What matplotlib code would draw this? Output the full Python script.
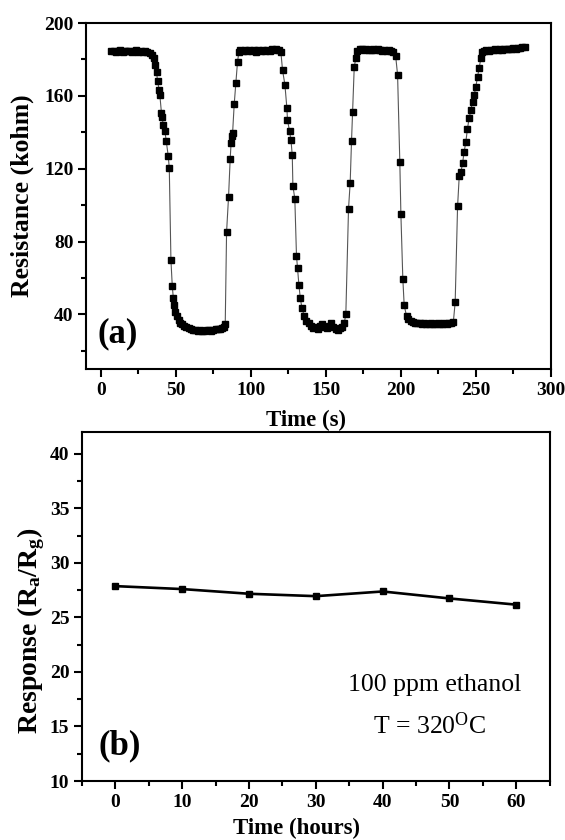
import matplotlib
matplotlib.use("Agg")
import matplotlib.pyplot as plt
from matplotlib.ticker import MultipleLocator

plt.rcParams['font.family'] = ['Liberation Serif', 'DejaVu Serif']
plt.rcParams['mathtext.default'] = 'regular'
plt.rcParams['axes.linewidth'] = 1.5

# (a) resistance transient, time in s, resistance in kohm
time_s = [7, 8.5, 10, 11.5, 13, 14.5, 16, 17.5, 19, 20.5, 22, 23.5, 25, 26.5, 28, 29.5, 31, 32.5, 34,
          35.5, 36.3, 37.1, 37.8, 38.9, 39.3, 40.4, 40.8, 41.6, 42.7, 43.6, 44.9, 45.6,
          46.7, 47.6, 48.3, 48.9, 49.7, 50.7, 51.8, 53, 54.3,
          55.5, 57, 58.5, 60, 61.5, 63, 64.5, 66, 67.5, 69, 70.5, 72, 73.5, 75, 76.5, 78, 79.5, 81, 82.2,
          82.9, 83.8, 85.1, 86.2, 86.8, 87.3, 87.8, 88.9, 90, 91.1, 92,
          93, 94.5, 96, 97.5, 99, 100.5, 102, 103.5, 105, 106.5, 108, 109.5, 111, 112.5, 114, 115.5, 117, 118.5, 120,
          121.1, 122.7, 124, 124.4, 125.8, 126.7, 127.6, 128, 129.3, 130.4, 131.1, 132, 132.9, 134, 135.6,
          137, 138.5, 140, 141.5, 143, 144.5, 146, 147.5, 149, 150.5, 152, 153.5, 155, 156.5, 158, 159.5, 161, 162.3,
          163.3, 165.1, 166.2, 167.1, 167.8, 168.9, 170,
          171, 172.5, 174, 175.5, 177, 178.5, 180, 181.5, 183, 184.5, 186, 187.5, 189, 190.5, 192, 193.5, 195, 196.5,
          197.8, 199.3, 200, 201.3, 202.2, 203.8,
          205, 206.5, 208, 209.5, 211, 212.5, 214, 215.5, 217, 218.5, 220, 221.5, 223, 224.5, 226, 227.5, 229, 230.5,
          232, 233.5, 235,
          236.2, 237.8, 238.9, 240, 241.1, 242.2, 243.3, 244.4, 245.5, 246.7, 247.8, 248.9, 250, 251.1, 252.2, 253.3, 254.4,
          255.5, 257, 258.5, 260, 261.5, 263, 264.5, 266, 267.5, 269, 270.5, 272, 273.5, 275, 276.5, 278, 279.5, 281, 282.5]
resistance = [184.7, 184.8, 184.3, 184.6, 185, 184.2, 184.5, 184.9, 184.4, 184.1, 184.6, 185, 184.3, 184.7, 184.2, 184.8, 184, 183.5, 182.5,
              180.6, 177, 173.3, 167.9, 163.3, 160.5, 150.5, 148.5, 144, 140.5, 135, 127, 120.4,
              69.8, 55.5, 49, 45, 41.5, 39, 37, 35.5, 34.5,
              33.5, 32.8, 32.5, 32, 31.5, 31.2, 31, 31.3, 30.8, 31, 31.5, 31.2, 31, 31.4, 31.8, 32.2, 32, 32.5, 33,
              34.5, 85.3, 104.3, 125.3, 134, 138, 139.5, 155.6, 167.3, 178.8, 184,
              185.2, 184.5, 185, 184.6, 185.3, 184.8, 185, 184.3, 185.1, 184.7, 185.4, 184.9, 185.2, 184.6, 185.6, 185, 186, 185.4, 184,
              174.2, 166, 153.3, 146.8, 140.5, 135.9, 127.3, 110.7, 103.4, 72.3, 65.6, 56.4, 49.2, 43.7, 39,
              36.5, 35, 33.5, 32.5, 33, 32, 33.5, 34.5, 33, 32.5, 33.8, 35, 33, 32, 31.5, 32.5, 33, 35.5,
              40, 98.1, 112.2, 135.3, 151, 175.7, 181,
              184.5, 185.5, 185.8, 185.2, 185.6, 185, 185.4, 185.8, 185.2, 185.5, 185, 184.6, 185.3, 184.8, 185.2, 184.5, 184, 182,
              171.6, 123.5, 95.2, 59.6, 45, 39,
              37.5, 36.5, 36, 35.5, 35.2, 35, 34.8, 35.2, 34.5, 34.8, 35, 34.6, 34.8, 35, 34.6, 34.9, 35.2, 34.7,
              35, 35.3, 36,
              46.7, 99.3, 115.8, 118, 122.9, 129.3, 134.7, 142, 147.8, 152.3, 156.9, 160.5, 165.1, 170.5, 175.2, 180.6, 184.3,
              184.5, 185, 184.8, 185.2, 185, 185.5, 185.2, 185.6, 185.3, 185.8, 185.5, 186, 185.7, 186.2, 186, 186.5, 186.3, 186.8, 187]

# (b) long-term stability
time_h = [0, 10, 20, 30, 40, 50, 60]
response = [27.87, 27.6, 27.17, 26.95, 27.38, 26.74, 26.17]

fig = plt.figure(figsize=(5.65, 8.4), dpi=100)
ax1 = fig.add_axes([0.152, 0.5607, 0.823, 0.4119])
ax2 = fig.add_axes([0.145, 0.0702, 0.828, 0.4155])

ax1.plot(time_s, resistance, color='#555555', lw=0.8, marker='s', ms=4.8,
         mfc='black', mec='black')
ax1.set_xlim(-10, 300)
ax1.set_ylim(10, 200)
ax1.xaxis.set_major_locator(MultipleLocator(50))
ax1.xaxis.set_minor_locator(MultipleLocator(25))
ax1.set_yticks([40, 80, 120, 160, 200])
ax1.set_yticks([20, 60, 100, 140, 180], minor=True)
ax1.set_xlabel('Time (s)', fontsize=16.5, fontweight='bold')
ax1.xaxis.set_label_coords(0.473, -0.118)
ax1.set_ylabel('Resistance (kohm)', fontsize=18.5, fontweight='bold')
ax1.yaxis.set_label_coords(-0.112, 0.5)
ax1.text(0.024, 0.055, '(a)', transform=ax1.transAxes, fontsize=25,
         fontweight='bold', ha='left', va='bottom')

ax2.plot(time_h, response, color='black', lw=1.9, marker='s', ms=4.8)
ax2.set_xlim(-5, 65)
ax2.set_ylim(10, 42)
ax2.xaxis.set_major_locator(MultipleLocator(10))
ax2.xaxis.set_minor_locator(MultipleLocator(5))
ax2.yaxis.set_major_locator(MultipleLocator(5))
ax2.yaxis.set_minor_locator(MultipleLocator(2.5))
ax2.set_xlabel('Time (hours)', fontsize=16.5, fontweight='bold')
ax2.xaxis.set_label_coords(0.459, -0.106)
ax2.set_ylabel('Response (R$_a$/R$_g$)', fontsize=20, fontweight='bold')
ax2.yaxis.set_label_coords(-0.075, 0.43)
ax2.text(0.036, 0.054, '(b)', transform=ax2.transAxes, fontsize=25,
         fontweight='bold', ha='left', va='bottom')
ax2.text(47.8, 18.8, '100 ppm ethanol', fontsize=18.5, ha='center', va='center')
ax2.text(47, 15.1, 'T = 320$^{O}$C', fontsize=18.5, ha='center', va='center')

for ax in (ax1, ax2):
    ax.tick_params(which='both', direction='out', top=False, right=False,
                   width=1.5, labelsize=14, pad=3)
    ax.tick_params(which='major', length=6)
    ax.tick_params(which='minor', length=3.5)
    for lab in ax.get_xticklabels() + ax.get_yticklabels():
        lab.set_fontweight('bold')

fig.savefig('out.png', dpi=100)
